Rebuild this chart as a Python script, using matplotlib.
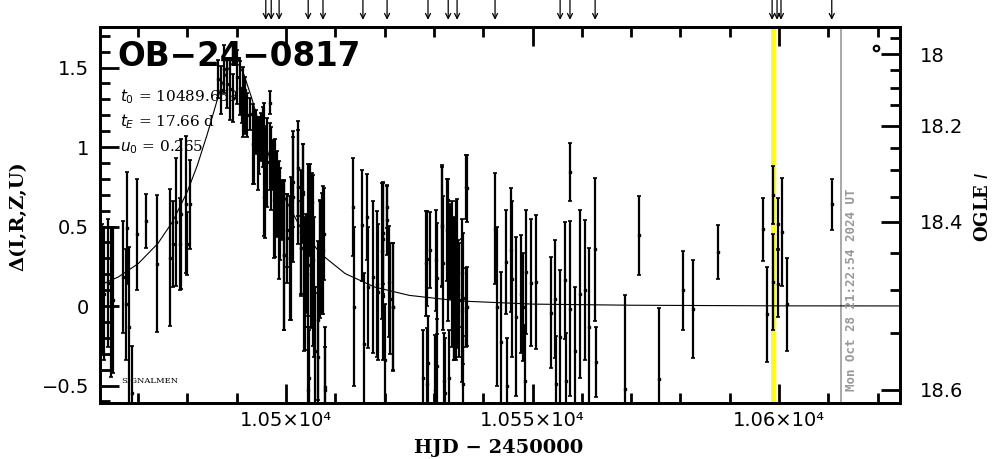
import matplotlib
matplotlib.use("Agg")
import matplotlib.pyplot as plt
from matplotlib.ticker import MultipleLocator, FixedLocator, FuncFormatter

# observations: HJD-2450000, delta, error
t_obs = [10462.6, 10463.1, 10463.8, 10464.4, 10465.0, 10466.9, 10467.5, 10467.8, 10468.2, 10468.8,
         10469.7, 10471.7, 10473.8, 10476.5, 10477.0, 10477.7, 10478.4, 10478.8, 10479.7, 10480.0,
         10480.5, 10486.3, 10486.8, 10487.4, 10488.0, 10488.6, 10489.2, 10490.0, 10490.7, 10491.2,
         10491.7, 10492.0, 10493.4, 10494.0, 10494.6, 10495.4, 10495.7, 10496.1, 10496.7, 10496.9,
         10497.6, 10498.1, 10498.8, 10499.5, 10500.3, 10501.0, 10501.5, 10502.5, 10503.0, 10503.5,
         10503.6, 10504.1, 10504.5, 10504.6, 10505.0, 10505.5, 10505.9, 10506.4, 10506.9, 10507.4,
         10507.8, 10507.9, 10513.5, 10513.8, 10515.5, 10515.8, 10516.4, 10516.7, 10517.7, 10518.4,
         10518.7, 10519.4, 10519.6, 10520.1, 10520.5, 10521.1, 10521.6, 10527.7, 10528.5, 10528.7,
         10530.4, 10530.6, 10531.6, 10532.0, 10532.6, 10532.9, 10533.1, 10533.6, 10534.0, 10534.5,
         10534.9, 10535.6, 10535.8, 10536.5, 10536.6, 10542.4, 10542.7, 10543.7, 10544.6, 10544.8,
         10545.6, 10545.8, 10546.6, 10547.6, 10548.0, 10548.5, 10548.7, 10549.6, 10550.7, 10553.7,
         10554.6, 10554.8, 10555.6, 10556.6, 10556.8, 10557.6, 10557.7, 10558.6, 10559.6, 10560.6,
         10561.5, 10562.7, 10562.8, 10568.8, 10571.7, 10575.7, 10580.6, 10582.6, 10587.7, 10596.7,
         10597.6, 10598.7, 10598.8, 10599.7, 10599.8, 10600.7, 10601.7, 10610.7,
         # second pass over the dense nights
         10491.0, 10491.7, 10492.6, 10493.5, 10494.4, 10494.9, 10495.5, 10495.6, 10496.8, 10497.4,
         10497.8, 10498.6, 10499.1, 10499.6, 10500.1, 10500.8, 10501.5, 10502.5, 10503.0, 10503.5,
         10503.9, 10504.5, 10504.9, 10505.2, 10505.3, 10504.4, 10505.7, 10506.4, 10506.9, 10507.6,
         10508.0, 10519.6, 10519.7, 10520.5, 10520.8, 10521.8, 10528.4, 10528.6, 10529.2, 10530.2,
         10530.6, 10531.6, 10531.9, 10532.2, 10532.9, 10533.3, 10534.0, 10534.6, 10535.0, 10535.6,
         10535.9, 10536.7, 10536.8]
d_obs = [0.109, 0.078, 0.145, 0.025, 0.036, 0.182, 0.010, 0.490, -0.130, -0.550,
         0.450, 0.535, 0.266, 0.304, 0.392, 0.528, 0.392, 0.580, 0.640, 0.392,
         0.640, 1.426, 1.357, 1.490, 1.398, 1.362, 1.310, 1.440, 1.373, 1.283,
         1.357, 1.200, 1.020, 1.094, 1.010, 1.063, 0.780, 0.905, 1.280, 0.864,
         0.665, 0.706, 0.580, 0.319, 0.476, 0.360, 0.780, 0.748, 0.465, 0.706,
         0.088, 0.266, 0.381, -0.450, 0.203, 0.287, -0.280, -0.090, 0.297, 0.330,
         0.455, -0.510, 0.623, -0.006, 0.507, -0.240, 0.560, 0.119, 0.182, 0.140,
         0.088, 0.346, 0.423, -0.340, 0.623, 0.046, -0.006, -0.450, 0.297, -0.360,
         0.287, -0.380, 0.497, -0.470, 0.476, 0.287, -0.450, 0.200, 0.098, 0.161,
         0.077, 0.210, -0.490, 0.748, -0.010, 0.486, -0.006, -0.227, 0.277, -0.500,
         0.350, 0.172, -0.069, 0.077, -0.006, -0.470, 0.214, 0.147, 0.151, -0.041,
         0.046, -0.490, -0.195, 0.161, -0.470, 0.843, -0.017, -0.280, 0.077, 0.098,
         -0.132, 0.356, -0.350, -0.520, 0.445, -0.460, 0.098, -0.020, 0.340, 0.482,
         -0.052, 0.698, 0.151, 0.518, 0.140, 0.463, 0.010, 0.640,
         1.250, 1.210, 1.210, 1.000, 0.960, 1.065, 1.107, 0.688, 0.940, 0.887,
         0.680, 0.540, 0.604, 0.321, 0.426, 0.300, 0.688, 0.866, 0.363, 0.720,
         0.143, 0.258, 0.604, 0.656, 0.310, -0.530, 0.122, -0.320, 0.342, 0.352,
         -0.530, 0.457, 0.060, 0.540, 0.153, -0.004, 0.270, -0.490, 0.352, -0.530,
         0.174, 0.509, 0.270, -0.550, 0.667, 0.342, 0.110, 0.373, 0.038, -0.030,
         0.048, 0.740, -0.004]
e_obs = [0.41, 0.42, 0.40, 0.47, 0.46, 0.35, 0.35, 0.35, 0.50, 0.30,
         0.35, 0.17, 0.43, 0.43, 0.27, 0.40, 0.29, 0.47, 0.43, 0.20,
         0.28, 0.12, 0.15, 0.15, 0.15, 0.19, 0.15, 0.17, 0.17, 0.22,
         0.085, 0.14, 0.25, 0.14, 0.18, 0.19, 0.35, 0.28, 0.07, 0.26,
         0.36, 0.27, 0.29, 0.47, 0.23, 0.45, 0.28, 0.36, 0.39, 0.31,
         0.37, 0.31, 0.51, 0.30, 0.34, 0.54, 0.40, 0.50, 0.37, 0.38,
         0.29, 0.25, 0.31, 0.50, 0.35, 0.45, 0.27, 0.38, 0.48, 0.46,
         0.43, 0.43, 0.35, 0.35, 0.13, 0.35, 0.40, 0.30, 0.30, 0.30,
         0.32, 0.30, 0.38, 0.30, 0.32, 0.38, 0.30, 0.46, 0.44, 0.50,
         0.34, 0.34, 0.30, 0.20, 0.25, 0.35, 0.50, 0.44, 0.33, 0.30,
         0.39, 0.49, 0.50, 0.37, 0.34, 0.35, 0.39, 0.40, 0.42, 0.35,
         0.37, 0.30, 0.42, 0.37, 0.30, 0.18, 0.55, 0.40, 0.53, 0.44,
         0.50, 0.45, 0.22, 0.59, 0.25, 0.45, 0.25, 0.31, 0.17, 0.20,
         0.30, 0.18, 0.30, 0.16, 0.21, 0.34, 0.29, 0.16,
         0.10, 0.13, 0.10, 0.23, 0.23, 0.15, 0.17, 0.25, 0.21, 0.16,
         0.37, 0.37, 0.19, 0.47, 0.28, 0.39, 0.41, 0.30, 0.30, 0.30,
         0.42, 0.32, 0.29, 0.18, 0.25, 0.40, 0.44, 0.40, 0.32, 0.40,
         0.40, 0.32, 0.40, 0.22, 0.35, 0.40, 0.33, 0.35, 0.24, 0.35,
         0.35, 0.38, 0.42, 0.35, 0.13, 0.30, 0.45, 0.30, 0.36, 0.45,
         0.41, 0.21, 0.25]

# model curve
t_mod = [10462, 10466, 10470, 10474, 10477, 10480, 10482, 10484, 10486, 10487, 10488, 10489,
         10489.6, 10490.5, 10491.5, 10493, 10495, 10497, 10500, 10503, 10507, 10512, 10518,
         10525, 10535, 10550, 10570, 10600, 10625]
d_mod = [0.128, 0.183, 0.266, 0.393, 0.531, 0.721, 0.884, 1.078, 1.291, 1.392, 1.475, 1.524,
         1.532, 1.514, 1.453, 1.312, 1.099, 0.902, 0.664, 0.490, 0.329, 0.204, 0.119,
         0.067, 0.032, 0.012, 0.005, 0.001, 0.0005]

# OGLE point (open circle, upper right)
t_ogle = [10619.7]
d_ogle = [1.62]

# arrows at top
t_arrows = [10495.9, 10497.0, 10498.6, 10504.5, 10507.5, 10515.6, 10520.5, 10528.8, 10532.9,
            10534.7, 10542.4, 10555.6, 10557.6, 10562.7, 10598.6, 10599.6, 10600.4, 10610.7]

t_yellow = 10598.8
t_now = 10612.6

# right axis (OGLE I) tick positions in delta units
ogle_major_pos = [1.583, 1.134, 0.530, -0.528]
ogle_major_lab = ["18", "18.2", "18.4", "18.6"]
ogle_minor_pos = [1.684, 1.484, 1.373, 1.264, 0.996, 0.855, 0.687, 0.331, 0.101, -0.172]

fig = plt.figure(figsize=(10.04, 4.59), dpi=100)
ax = fig.add_axes([100 / 1004, 1 - 403 / 459, 800 / 1004, 376 / 459])
ax.set_xlim(10462.27, 10624.54)
ax.set_ylim(-0.61, 1.755)

ax.axvline(t_yellow, color="#ffff00", lw=3.5, zorder=1)
ax.axvline(t_now, color="#999999", lw=1.2, zorder=1)

ax.plot(t_mod, d_mod, color="k", lw=0.8, zorder=2)
ax.errorbar(t_obs, d_obs, yerr=e_obs, fmt="s", ms=1.5, color="k", ecolor="k",
            elinewidth=1.6, capsize=1.5, capthick=1.2, zorder=3)
ax.plot(t_ogle, d_ogle, "o", ms=4, mfc="none", mec="k", mew=1.5, zorder=3)

for t in t_arrows:
    ax.annotate("", xy=(t, 1.019), xytext=(t, 1.072),
                xycoords=("data", "axes fraction"), textcoords=("data", "axes fraction"),
                arrowprops=dict(arrowstyle="->", lw=0.9, color="k", mutation_scale=9,
                                shrinkA=0, shrinkB=0),
                annotation_clip=False)

for s in ax.spines.values():
    s.set_linewidth(2)

ax.xaxis.set_major_locator(FixedLocator([10500, 10550, 10600]))
ax.xaxis.set_minor_locator(MultipleLocator(10))
ax.xaxis.set_major_formatter(FuncFormatter(lambda v, p: f"{v / 1e4:g}×10⁴"))
ax.yaxis.set_major_locator(MultipleLocator(0.5))
ax.yaxis.set_minor_locator(MultipleLocator(0.1))
ax.yaxis.set_major_formatter(FuncFormatter(lambda v, p: "0" if abs(v) < 1e-9 else f"{v:g}".replace("-", "−")))
ax.tick_params(which="both", direction="in", top=True, right=False, width=2, labelsize=14)
ax.tick_params(which="major", length=14, pad=8)
ax.tick_params(which="minor", length=7)
ax.tick_params(axis="x", pad=6)

ax2 = ax.twinx()
ax2.set_ylim(ax.get_ylim())
ax2.set_yticks(ogle_major_pos)
ax2.set_yticklabels(ogle_major_lab)
ax2.set_yticks(ogle_minor_pos, minor=True)
ax2.tick_params(which="both", direction="in", width=2, labelsize=14)
ax2.tick_params(which="major", length=14, pad=14)
ax2.tick_params(which="minor", length=7)
for s in ax2.spines.values():
    s.set_linewidth(2)

fig.text(0.497, 0.004, "HJD − 2450000", ha="center", va="bottom", fontsize=14,
         family="DejaVu Serif", weight="bold")
fig.text(0.018, 0.53, "Δ(I,R,Z,U)", rotation=90, ha="center", va="center", fontsize=14,
         family="DejaVu Serif", weight="bold")
fig.text(0.979, 0.55, "OGLE $\\mathit{I}$", rotation=90, ha="center", va="center", fontsize=13,
         family="DejaVu Serif", weight="bold")

ax.text(0.022, 0.965, "OB−24−0817", transform=ax.transAxes, ha="left", va="top",
        fontsize=23.5, weight="bold", family="DejaVu Sans")
ax.text(0.025, 0.815, "$t_0$ = 10489.6593", transform=ax.transAxes, ha="left", va="center",
        fontsize=11, family="DejaVu Serif")
ax.text(0.025, 0.748, "$t_E$ = 17.66 d", transform=ax.transAxes, ha="left", va="center",
        fontsize=11, family="DejaVu Serif")
ax.text(0.025, 0.681, "$u_0$ = 0.265", transform=ax.transAxes, ha="left", va="center",
        fontsize=11, family="DejaVu Serif")
ax.text(0.027, 0.058, "SIGNALMEN", transform=ax.transAxes, ha="left", va="center",
        fontsize=6, family="DejaVu Serif")
ax.text(t_now + 0.7, -0.535, "Mon Oct 28 21:22:54 2024 UT", rotation=90, ha="left", va="bottom",
        fontsize=9, color="#999999", family="DejaVu Sans Mono", weight="bold")

fig.savefig("out.png", dpi=100)
